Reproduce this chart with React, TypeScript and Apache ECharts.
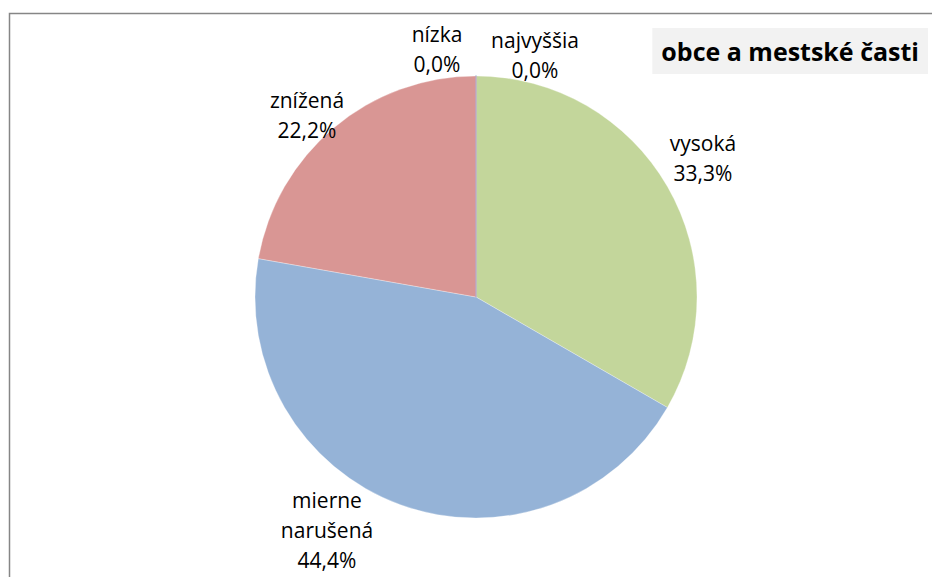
import React, { useEffect, useRef } from "react";
import * as echarts from "echarts";

const categories = ["najvyššia", "vysoká", "mierne narušená", "znížená", "nízka"];
const values = [0.0, 33.3, 44.4, 22.2, 0.0];
const labelNames = ["najvyššia", "vysoká", "mierne\nnarušená", "znížená", "nízka"];
const chartTitle = "obce a mestské časti";

const colors = ["#4bacc6", "#c3d69b", "#95b3d7", "#d99694", "#b2a1c7"];
// label anchor positions (layout only)
const labelPos: [number, number][] = [
  [535, 55],
  [703, 158],
  [327, 530],
  [307, 115],
  [437, 49],
];

const FONT = "'Open Sans', 'Noto Sans', sans-serif";

export default function App() {
  const ref = useRef<HTMLDivElement>(null);
  useEffect(() => {
    if (!ref.current) return;
    const chart = echarts.init(ref.current, undefined, { renderer: "svg" });
    chart.setOption({
      animation: false,
      backgroundColor: "#ffffff",
      title: {
        text: chartTitle,
        right: 4,
        top: 28,
        backgroundColor: "#f2f2f2",
        padding: [8, 9, 8, 9],
        textStyle: { fontFamily: FONT, fontSize: 25, fontWeight: "bold", color: "#000", lineHeight: 30 },
      },
      graphic: [
        {
          type: "rect",
          shape: { x: 9.5, y: 13.5, width: 1000, height: 1000 },
          style: { fill: "none", stroke: "#868686", lineWidth: 1.5 },
          silent: true,
          z: -1,
        },
      ],
      series: [
        {
          type: "pie",
          center: [476, 297],
          radius: 221,
          startAngle: 90,
          clockwise: true,
          avoidLabelOverlap: false,
          data: categories.map((c, i) => ({
            name: c,
            value: values[i],
            itemStyle: {
              color: colors[i],
              borderColor: values[i] === 0 ? colors[i] : "#ffffff",
              borderWidth: values[i] === 0 ? 1.2 : 0.3,
            },
          })),
          label: {
            show: true,
            position: "outside",
            fontFamily: FONT,
            fontSize: 21,
            lineHeight: 30,
            color: "#000",
            align: "center",
            formatter: (p: any) =>
              labelNames[p.dataIndex] + "\n" + values[p.dataIndex].toFixed(1).replace(".", ",") + "%",
          },
          labelLine: { show: false },
          labelLayout: (p: any) => ({
            x: labelPos[p.dataIndex][0],
            y: labelPos[p.dataIndex][1],
            align: "center",
            verticalAlign: "middle",
          }),
          emphasis: { disabled: true },
        },
      ],
    });
    return () => chart.dispose();
  }, []);
  return (
    <div
      ref={ref}
      style={{ position: "absolute", left: 0, top: 0, width: 932, height: 577 }}
    />
  );
}
